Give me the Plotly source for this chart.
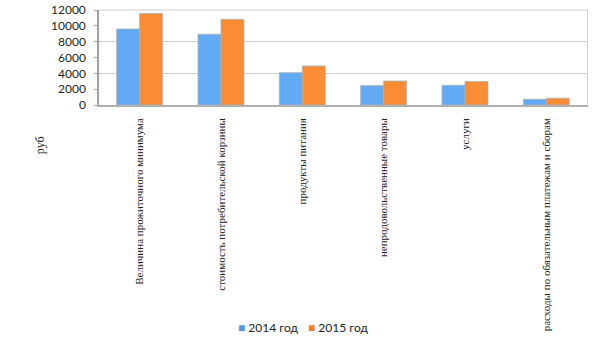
import plotly.graph_objects as go

categories = [
    "Величина прожиточного минимума",
    "стоимость потребительской корзины",
    "продукты питания",
    "непродовольственные товары",
    "услуги",
    "расходы по обязательным платежам и сборам",
]
series_names = ["2014 год", "2015 год"]
values_2014 = [9600, 8930, 4080, 2440, 2490, 720]
values_2015 = [11560, 10820, 4930, 3030, 2960, 850]
y_ticks = [0, 2000, 4000, 6000, 8000, 10000, 12000]
bar_colors = ["#62AAF4", "#FA8C33"]
legend_colors = ["#5596DC", "#F0822F"]

fig = go.Figure()
for name, vals, col in zip(series_names, [values_2014, values_2015], bar_colors):
    fig.add_trace(go.Bar(x=categories, y=vals, name=name, showlegend=False,
                         marker=dict(color=col, line=dict(color="#a8b0b8", width=0.8))))
# overlay axis carrying the wider gridlines
fig.add_trace(go.Scatter(x=categories, y=[None]*len(categories), yaxis="y2",
                         showlegend=False, hoverinfo="skip"))

annotations = [dict(text="руб", xref="paper", yref="paper", textangle=-90,
                    x=-0.139, y=-0.537, showarrow=False,
                    font=dict(family="Liberation Serif, serif", size=12, color="#222"))]
legend_x = [0.281, 0.424]
for name, col, lx in zip(series_names, legend_colors, legend_x):
    annotations.append(dict(
        text=f"<span style='color:{col}'>■</span> {name}",
        xref="paper", yref="paper", x=lx, y=-2.347, xanchor="left", yanchor="middle",
        showarrow=False, font=dict(family="Lato, sans-serif", size=12, color="#222")))

fig.update_layout(
    width=605, height=340,
    margin=dict(l=99, r=18, t=10, b=235, autoexpand=False),
    paper_bgcolor="white", plot_bgcolor="white",
    barmode="group", bargap=0.435, bargroupgap=0,
    font=dict(family="Lato, sans-serif", size=12, color="#222"),
    showlegend=False,
    xaxis=dict(
        tickangle=-90, automargin=False, ticklabelstandoff=7,
        tickfont=dict(family="Liberation Serif, serif", size=11, color="#222"),
        showline=True, linecolor="#b0b0b0", linewidth=1.5,
        mirror=False, ticks="", showgrid=False,
    ),
    yaxis=dict(
        range=[0, 12000], tickvals=y_ticks, ticktext=[str(v) for v in y_ticks],
        showgrid=False, zeroline=False, automargin=False, ticklabelstandoff=6,
        showline=True, linecolor="#a0a0a0", linewidth=1.5,
        ticks="outside", ticklen=3, tickcolor="#a0a0a0",
        tickfont=dict(family="Lato, sans-serif", size=12, color="#222"),
    ),
    yaxis2=dict(
        overlaying="y", range=[0, 12000], dtick=4000, showticklabels=False,
        showgrid=True, gridcolor="#d0d0d0", gridwidth=1.2, zeroline=False,
        showline=True, linecolor="#d0d0d0", side="right", ticks="", automargin=False,
    ),
    annotations=annotations,
    shapes=[dict(type="line", xref="paper", yref="paper", x0=0, x1=1, y0=1, y1=1,
                 line=dict(color="#d0d0d0", width=1.2))],
)
fig.write_html("out.html")
